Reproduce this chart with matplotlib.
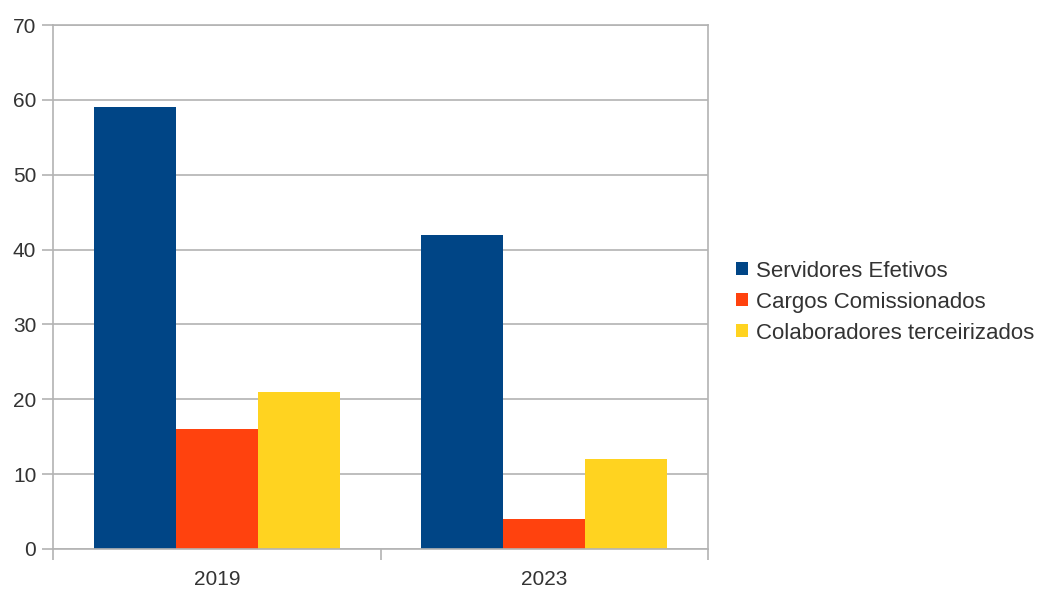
import numpy as np
import matplotlib.pyplot as plt
from matplotlib.patches import Patch

plt.rcParams['font.family'] = ['Liberation Sans', 'DejaVu Sans']

years = ['2019', '2023']
series = ['Servidores Efetivos', 'Cargos Comissionados', 'Colaboradores terceirizados']
servidores = [59, 42]
cargos = [16, 4]
colaboradores = [21, 12]
colors = ['#004586', '#ff420e', '#ffd320']

fig = plt.figure(figsize=(10.44, 5.9), dpi=100)
ax = fig.add_axes([0.0508, 0.0695, 0.6274, 0.8881])

x = np.arange(len(years))
w = 0.25
for i, vals in enumerate([servidores, cargos, colaboradores]):
    ax.bar(x + (i - 1) * w, vals, width=w, color=colors[i], zorder=2)

ax.set_xlim(-0.5, 1.5)
ax.set_ylim(0, 70)
ax.set_yticks(range(0, 71, 10))
ax.set_xticks(x)
ax.set_xticklabels(years)
ax.set_xticks([-0.5, 0.5, 1.5], minor=True)
ax.tick_params(axis='x', which='major', length=0, pad=15, labelsize=15, labelcolor='#333333')
ax.tick_params(axis='x', which='minor', length=8, color='#b3b3b3', width=1.2)
ax.tick_params(axis='y', length=8, color='#b3b3b3', width=1.2, pad=4, labelsize=15, labelcolor='#333333')
ax.grid(axis='y', color='#b3b3b3', linewidth=1.2, zorder=0)
for s in ax.spines.values():
    s.set_color('#b3b3b3')
    s.set_linewidth(1.2)

handles = [Patch(facecolor=c, label=l) for c, l in zip(colors, series)]
fig.legend(handles=handles, loc='center left', bbox_to_anchor=(0.686, 0.488), frameon=False,
           fontsize=16, handlelength=0.55, handleheight=0.55, handletextpad=0.35,
           labelspacing=0.45, labelcolor='#333333')

fig.savefig('out.png', dpi=100)
